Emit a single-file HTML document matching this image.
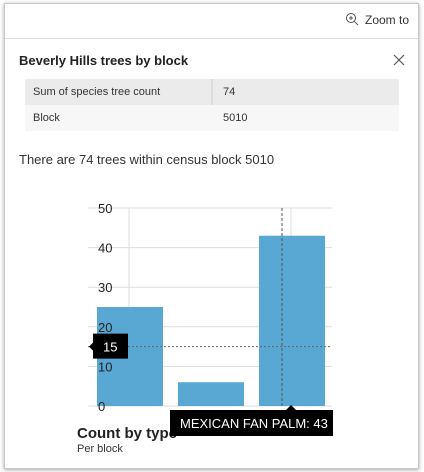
<!DOCTYPE html>
<html><head><meta charset="utf-8"><style>
body{margin:0;width:424px;height:472px;background:#fff;font-family:"Liberation Sans",sans-serif;position:relative;overflow:hidden}
.panel{position:absolute;left:4px;top:3px;width:413px;height:464px;border:1px solid #c8c8c8;box-shadow:0 1px 4px rgba(0,0,0,.35);background:#fff}
.abs{position:absolute}
</style></head><body>
<div class="panel">
 <div class="abs" style="left:340px;top:8px;font-size:12px;color:#333">
  <svg width="14" height="14" style="vertical-align:-2px;margin-right:6px"><circle cx="6" cy="6" r="4.5" fill="none" stroke="#555"/><line x1="9.3" y1="9.3" x2="13" y2="13" stroke="#555"/><line x1="4" y1="6" x2="8" y2="6" stroke="#555"/><line x1="6" y1="4" x2="6" y2="8" stroke="#555"/></svg>Zoom to</div>
 <div class="abs" style="left:0;top:34px;width:413px;height:1px;background:#ddd"></div>
 <div class="abs" style="left:14px;top:49px;font-size:13px;font-weight:bold;color:#222">Beverly Hills trees by block</div>
 <svg class="abs" style="left:388px;top:50px" width="12" height="12"><path d="M1 1L11 11M11 1L1 11" stroke="#555" stroke-width="1.2"/></svg>
 <div class="abs" style="left:20px;top:75px;width:374px;font-size:11px;color:#333">
  <div style="height:26px;background:#ebebeb;position:relative"><span style="position:absolute;left:8px;top:7px">Sum of species tree count</span><span style="position:absolute;left:186px;top:0;width:2px;height:52px;background:#ddd"></span><span style="position:absolute;left:198px;top:7px">74</span></div>
  <div style="height:26px;background:#f7f7f7;position:relative"><span style="position:absolute;left:8px;top:7px">Block</span><span style="position:absolute;left:198px;top:7px">5010</span></div>
 </div>
 <div class="abs" style="left:14px;top:148px;font-size:13px;color:#333">There are 74 trees within census block 5010</div>
</div>
<div class="abs" style="left:77px;top:425px;font-size:15px;font-weight:bold;color:#222">Count by type</div>
<div class="abs" style="left:77px;top:443px;font-size:11px;color:#333">Per block</div>
<svg id="chart" class="abs" style="left:0;top:0;z-index:2" width="424" height="472"></svg>
<script>
const categories=["A","B","MEXICAN FAN PALM"];
const values=[25,6,43];
const ticks=[0,10,20,30,40,50];
const cursorValue=15;
const hoverIndex=2;
const NS="http://www.w3.org/2000/svg";
const svg=document.getElementById('chart');
const y=v=>406-v*3.96;
const xb=i=>97+i*81;
function mk(t,a,p){const e=document.createElementNS(NS,t);for(const k in a)e.setAttribute(k,a[k]);(p||svg).appendChild(e);return e;}
ticks.forEach(t=>{
 const l=mk('line',{x1:88,x2:332,y1:y(t),y2:y(t),stroke:'#ddd'});
 
 
});
[129,291].forEach((x,i)=>{const l=mk('line',{x1:x,x2:x,y1:y(50),y2:y(0),stroke:'#ddd'});
 
 });
values.forEach((v,i)=>{
 const r=mk('rect',{x:xb(i),y:y(v),width:66,height:y(0)-y(v),fill:'#59a8d4'});
 
 
});
ticks.forEach(t=>{
 const tx=mk('text',{x:98,y:y(t)+5,'font-size':13,fill:'#222','font-family':'Liberation Sans'});
 tx.textContent=t;
 
 
});
const hx=xb(hoverIndex)+23;
const dv=mk('line',{x1:hx,x2:hx,y1:y(50),y2:y(0),stroke:'#555','stroke-dasharray':'3,2'});


const dh=mk('line',{x1:88,x2:332,y1:y(cursorValue),y2:y(cursorValue),stroke:'#666','stroke-dasharray':'2,2'});


const g1=mk('g',{});


const cy=y(cursorValue);
mk('path',{d:`M93 ${cy-13}H128V${cy+12}H93V${cy+4}L89 ${cy}L93 ${cy-4}Z`,fill:'#000'},g1);
const t1=mk('text',{x:103,y:cy+5,'font-size':13,fill:'#fff','font-family':'Liberation Sans'},g1);t1.textContent=cursorValue;
const g2=mk('g',{});


mk('path',{d:`M170 410H${hx+4}L${hx+9} 405L${hx+14} 410H333V436H170Z`,fill:'#000'},g2);
const t2=mk('text',{x:180,y:428,'font-size':13,fill:'#fff','font-family':'Liberation Sans'},g2);
t2.textContent=categories[hoverIndex]+': '+values[hoverIndex];
</script>
</body></html>
